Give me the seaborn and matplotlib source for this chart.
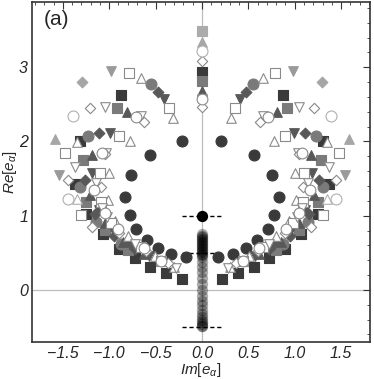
import numpy as np
import pandas as pd
import seaborn as sns
from matplotlib import pyplot as plt
from matplotlib.ticker import MultipleLocator

# eigenvalues e_alpha, right half (Im >= 0); the chart is mirror symmetric in Im
dk_circle_x = [0.17, 0.33, 0.47, 0.59, 0.71, 0.78, 0.83, 0.76, 0.56, 0.21]
dk_circle_y = [0.44, 0.48, 0.56, 0.67, 0.82, 1.01, 1.25, 1.55, 1.82, 2.00]

dk_square_x = [0.22, 0.39, 0.56, 0.72, 0.89, 1.07, 1.25, 1.37, 1.31, 0.87, 0.00]
dk_square_y = [0.15, 0.23, 0.31, 0.43, 0.55, 0.75, 1.02, 1.43, 2.00, 2.63, 2.94]

mg_square_x = [0.80, 1.05, 1.25, 1.28, 0.92, 0.00]
mg_square_y = [0.54, 0.81, 1.18, 1.75, 2.45, 2.81]

mg_circle_x = [0.87, 1.14, 1.31, 1.23, 0.55]
mg_circle_y = [0.62, 0.91, 1.38, 2.08, 2.77]

dg_diamond_x = [0.72, 0.95, 1.15, 1.26, 1.11, 0.47]
dg_diamond_y = [0.55, 0.73, 1.02, 1.48, 2.11, 2.66]

dg_tridown_x = [0.57, 0.78, 0.97, 1.11, 1.19, 0.99, 0.41]
dg_tridown_y = [0.46, 0.61, 0.83, 1.08, 1.57, 2.11, 2.57]

dg_triup_x = [0.62, 0.85, 1.05, 1.21, 1.18, 0.81, 0.00]
dg_triup_y = [0.48, 0.65, 0.90, 1.28, 1.82, 2.39, 2.68]

lg_square_x = [0.00]
lg_square_y = [3.49]
lg_triup_x = [1.58, 0.00]
lg_triup_y = [2.03, 3.34]
lg_diamond_x = [1.29]
lg_diamond_y = [2.80]
lg_tridown_x = [1.54, 0.98]
lg_tridown_y = [1.55, 2.95]

op_triup_x = [0.30, 0.51, 0.80, 0.94, 1.01, 1.00, 1.35, 0.78, 0.31, 0.66]
op_triup_y = [0.31, 0.45, 0.72, 0.93, 1.21, 1.58, 1.99, 2.00, 2.31, 2.85]

op_square_x = [0.44, 0.66, 0.98, 1.09, 1.30, 1.10, 1.48, 0.89, 0.36, 0.79]
op_square_y = [0.39, 0.58, 0.90, 1.18, 1.01, 1.58, 1.85, 2.08, 2.45, 2.92]

op_tridown_x = [0.28, 0.72, 1.02, 1.08, 1.14, 1.37, 1.03, 0.66, 1.05, 0.00]
op_tridown_y = [0.30, 0.62, 0.98, 1.10, 1.44, 1.66, 1.85, 2.34, 2.47, 2.57]

op_diamond_x = [0.37, 0.60, 0.89, 1.18, 1.09, 1.44, 1.05, 0.63, 1.21, 0.00, 0.00]
op_diamond_y = [0.36, 0.52, 0.77, 0.85, 1.39, 1.48, 1.83, 2.26, 2.45, 2.46, 3.08]

op_circle_x = [0.44, 0.62, 0.91, 1.05, 1.16, 1.08, 0.71, 0.00]
op_circle_y = [0.39, 0.56, 0.82, 1.04, 1.35, 1.84, 2.33, 2.57]

lo_circle_x = [1.44, 1.39, 0.00]
lo_circle_y = [1.22, 2.34, 3.22]
lo_triup_x = [1.35]
lo_triup_y = [1.22]

# real eigenvalues on the Im = 0 axis
axis_col_y = [0.75, 0.73, 0.71, 0.69, 0.67, 0.65, 0.63, 0.61, 0.59, 0.57, 0.55, 0.53,
              0.51, 0.49, 0.47, 0.44, 0.38, 0.31, 0.24, 0.16, 0.08, 0.00, -0.08,
              -0.15, -0.21, -0.27, -0.32, -0.36, -0.40, -0.43, -0.46, -0.48, -0.49]
axis_top_y = [1.0]
dash_levels = [1.0, 0.5, -0.5]

# marker style for each group: marker, face, edge, size
styles = {
    "dk_circle": ("o", "#3a3a3a", "#3a3a3a", 62),
    "dk_square": ("s", "#3a3a3a", "#3a3a3a", 52),
    "mg_square": ("s", "#7a7a7a", "#7a7a7a", 52),
    "mg_circle": ("o", "#7a7a7a", "#7a7a7a", 62),
    "dg_diamond": ("D", "#585858", "#585858", 30),
    "dg_tridown": ("v", "#585858", "#585858", 48),
    "dg_triup": ("^", "#585858", "#585858", 48),
    "lg_square": ("s", "#ababab", "#ababab", 52),
    "lg_triup": ("^", "#a6a6a6", "#a6a6a6", 48),
    "lg_diamond": ("D", "#a6a6a6", "#a6a6a6", 30),
    "lg_tridown": ("v", "#9a9a9a", "#9a9a9a", 48),
    "op_triup": ("^", "white", "#8a8a8a", 48),
    "op_square": ("s", "white", "#8a8a8a", 50),
    "op_tridown": ("v", "white", "#8a8a8a", 48),
    "op_diamond": ("D", "white", "#8a8a8a", 28),
    "op_circle": ("o", "white", "#8a8a8a", 60),
    "lo_circle": ("o", "white", "#b0b0b0", 62),
    "lo_triup": ("^", "white", "#b0b0b0", 48),
}

groups = {
    "dk_circle": (dk_circle_x, dk_circle_y),
    "dk_square": (dk_square_x, dk_square_y),
    "mg_square": (mg_square_x, mg_square_y),
    "mg_circle": (mg_circle_x, mg_circle_y),
    "dg_diamond": (dg_diamond_x, dg_diamond_y),
    "dg_tridown": (dg_tridown_x, dg_tridown_y),
    "dg_triup": (dg_triup_x, dg_triup_y),
    "lg_square": (lg_square_x, lg_square_y),
    "lg_triup": (lg_triup_x, lg_triup_y),
    "lg_diamond": (lg_diamond_x, lg_diamond_y),
    "lg_tridown": (lg_tridown_x, lg_tridown_y),
    "op_triup": (op_triup_x, op_triup_y),
    "op_square": (op_square_x, op_square_y),
    "op_tridown": (op_tridown_x, op_tridown_y),
    "op_diamond": (op_diamond_x, op_diamond_y),
    "op_circle": (op_circle_x, op_circle_y),
    "lo_circle": (lo_circle_x, lo_circle_y),
    "lo_triup": (lo_triup_x, lo_triup_y),
}

rows = []
for name, (xs, ys) in groups.items():
    for x, y in zip(xs, ys):
        rows.append({"group": name, "im": x, "re": y})
        if x > 0:
            rows.append({"group": name, "im": -x, "re": y})
df = pd.DataFrame(rows)

sns.set_theme(style="white")
plt.rcParams["font.family"] = ["Liberation Sans", "DejaVu Sans"]
plt.rcParams["mathtext.fontset"] = "custom"
plt.rcParams["mathtext.it"] = "Liberation Sans:italic"
plt.rcParams["mathtext.rm"] = "Liberation Sans"

fig, ax = plt.subplots(figsize=(3.74, 3.79), dpi=100)
fig.subplots_adjust(left=0.086, right=0.989, top=0.995, bottom=0.098)

ax.axhline(0, color="#bdbdbd", lw=0.9, zorder=0)
ax.axvline(0, color="#bdbdbd", lw=0.9, zorder=0)

for lvl in dash_levels:
    ax.plot([-0.21, 0.21], [lvl, lvl], color="black", ls=(0, (3, 2)), lw=1.0, zorder=1)

col = pd.DataFrame({"im": np.zeros(len(axis_col_y)), "re": axis_col_y})
sns.scatterplot(data=col, x="im", y="re", ax=ax, marker="o", s=66, color="black",
                alpha=0.32, linewidth=0, zorder=2)
sns.scatterplot(x=[0.0], y=axis_top_y, ax=ax, marker="o", s=66, color="black",
                linewidth=0, zorder=2)

for name, (marker, face, edge, size) in styles.items():
    sub = df[df["group"] == name]
    sns.scatterplot(data=sub, x="im", y="re", ax=ax, marker=marker, s=size,
                    color=face, edgecolor=edge, linewidth=0.8, zorder=3)

ax.set_xlim(-1.83, 1.81)
ax.set_ylim(-0.70, 3.88)
ax.xaxis.set_major_locator(MultipleLocator(0.5))
ax.xaxis.set_minor_locator(MultipleLocator(0.1))
ax.yaxis.set_major_locator(MultipleLocator(1))
ax.yaxis.set_minor_locator(MultipleLocator(0.2))
ax.set_xticklabels([f"{v:.1f}".replace("-", "\u2212") for v in ax.get_xticks()])
ax.set_yticks([0, 1, 2, 3])
ax.set_yticklabels(["0", "1", "2", "3"])
ax.tick_params(which="both", direction="in", top=True, right=True, color="#333333",
               labelsize=11.5, pad=3)
ax.tick_params(which="major", length=5, width=0.8)
ax.tick_params(which="minor", length=2.5, width=0.6)
for lab in ax.get_xticklabels() + ax.get_yticklabels():
    lab.set_style("italic")
for sp in ax.spines.values():
    sp.set_color("#333333")
    sp.set_linewidth(1.2)

ax.set_xlabel(r"$Im[e_{\alpha}]$", fontsize=11, labelpad=0)
ax.set_ylabel(r"$Re[e_{\alpha}]$", fontsize=11, labelpad=0)
ax.xaxis.set_label_coords(0.5, -0.055)
ax.yaxis.set_label_coords(-0.04, 0.5)
ax.text(0.033, 0.975, "(a)", transform=ax.transAxes, fontsize=15, va="top", ha="left")

plt.savefig("out.png", dpi=100)
